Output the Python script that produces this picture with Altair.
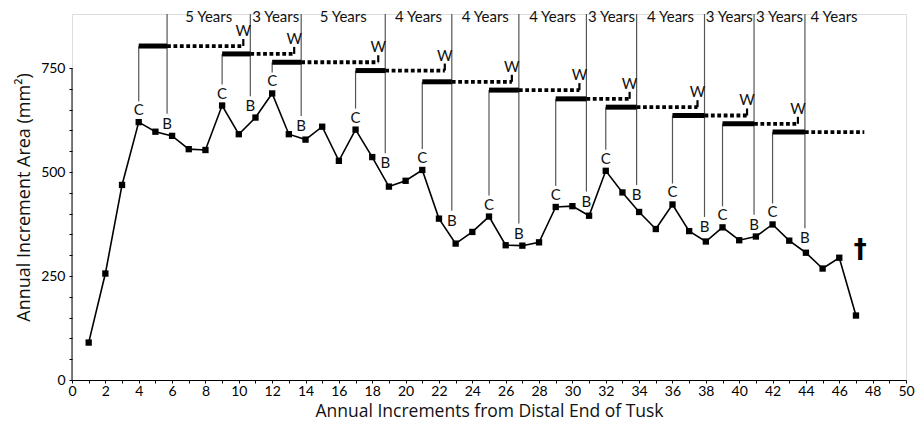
import altair as alt
import pandas as pd

# ---------------- data ----------------
increments = list(range(1, 48))
area = [90, 256, 469, 620, 597, 587, 555, 553, 660, 591, 631, 689, 591, 578, 609,
        527, 602, 536, 465, 479, 505, 388, 328, 356, 393, 324, 323, 331, 416, 418,
        395, 503, 451, 404, 363, 422, 358, 333, 367, 336, 345, 374, 335, 306, 268,
        294, 155]

c_x = [4, 9, 12, 17, 21, 25, 29, 32, 36, 39, 42]                 # "C" peaks
b_x = [5.70, 10.69, 13.74, 18.78, 22.77, 26.79, 30.84, 33.85, 37.92, 40.89, 43.94]  # "B" lines
bar_y = [803, 784, 764, 744, 717, 697, 676, 656, 636, 616, 596]   # bar / dotted level
b_label_y = [616, 658, 611, 521, 383, 352, 429, 445, 368, 373, 341]
years = ["5 Years", "3 Years", "5 Years", "4 Years", "4 Years", "4 Years",
         "3 Years", "4 Years", "3 Years", "3 Years", "4 Years"]
last_dotted_end = 47.5
w_gap = 0.42
dagger_x, dagger_y = 47.25, 313

# ---------------- layout ----------------
Y_MAX = 880
H = 366
W = 834
U = Y_MAX / H  # data units per pixel
FONT = "Lato"
TFONT = "Open Sans"

area_of = dict(zip(increments, area))

pts = pd.DataFrame({"x": increments, "y": area})

c_df = pd.DataFrame({"x": c_x, "y": [area_of[v] for v in c_x], "lab": "C"})
c_df["y0"] = c_df["y"] + 21 * U
c_df["y2"] = bar_y

bar_df = pd.DataFrame({"x": c_x, "x2": b_x, "y": bar_y})

dot_end = [b - w_gap for b in b_x[1:]] + [last_dotted_end]
dot_df = pd.DataFrame({"x": b_x, "x2": dot_end, "y": bar_y})

w_df = pd.DataFrame({"x": dot_end[:-1], "y": bar_y[:-1], "lab": "W"})
w_df["y2"] = w_df["y"] + 7 * U

b_df = pd.DataFrame({"x": b_x, "y": b_label_y, "lab": "B"})
b_df["y0"] = b_df["y"] + 10 * U
b_df["y2"] = Y_MAX

yr_x = [(b_x[i] + b_x[i + 1]) / 2 for i in range(len(b_x) - 1)] + [b_x[-1] + 1.75]
yr_df = pd.DataFrame({"x": yr_x, "y": Y_MAX - 2.5 * U, "lab": years})

ydom_df = pd.DataFrame({"x": [0], "y": [0], "y2": [750]})
dag_df = pd.DataFrame({"x": [dagger_x], "y": [dagger_y], "lab": ["†"]})

XT = "Annual Increments from Distal End of Tusk"
YT = "Annual Increment Area (mm²)"
xs = alt.Scale(domain=[0, 50], nice=False, zero=False)
ys = alt.Scale(domain=[0, Y_MAX], nice=False)

xaxis = alt.Axis(values=list(range(0, 51)),
                 labelExpr="datum.value % 2 === 0 ? datum.label : ''",
                 tickSize=3, labelPadding=1, labelFontSize=14, titleFontSize=17.5,
                 labelFont=FONT, titleFont=TFONT, titleFontWeight="normal",
                 grid=False, domainColor="black", tickColor="black",
                 labelColor="black", titleColor="#111", titlePadding=4,
                 labelFlush=False, labelOverlap=False)
yaxis = alt.Axis(values=list(range(0, 751, 50)),
                 labelExpr="datum.value % 250 === 0 ? datum.label : ''",
                 tickSize=3, labelPadding=4, labelFontSize=14, titleFontSize=18,
                 labelFont=FONT, titleFont=TFONT, titleFontWeight="normal",
                 grid=False, domain=False, tickColor="black",
                 labelColor="black", titleColor="#111", titlePadding=7,
                 labelOverlap=False)


def X(f):
    return alt.X(f, scale=xs, axis=xaxis, title=XT)


def Y(f):
    return alt.Y(f, scale=ys, axis=yaxis, title=YT)


line = alt.Chart(pts).mark_line(color="black", strokeWidth=1.6).encode(x=X("x:Q"), y=Y("y:Q"))
squares = alt.Chart(pts).mark_point(shape="square", filled=True, size=40, color="black",
                                    opacity=1).encode(x=X("x:Q"), y=Y("y:Q"))

c_lines = alt.Chart(c_df).mark_rule(color="#555", strokeWidth=1.2).encode(
    x=X("x:Q"), y=Y("y0:Q"), y2="y2:Q")
c_text = alt.Chart(c_df).mark_text(font=FONT, fontSize=15, color="#111", dy=-12,
                                   baseline="middle").encode(x=X("x:Q"), y=Y("y:Q"), text="lab:N")

bars = alt.Chart(bar_df).mark_rule(color="black", strokeWidth=5, strokeCap="butt").encode(
    x=X("x:Q"), x2="x2:Q", y=Y("y:Q"))
dots = alt.Chart(dot_df).mark_rule(color="black", strokeWidth=3.8, strokeDash=[3.8, 2.6],
                                   strokeCap="butt").encode(x=X("x:Q"), x2="x2:Q", y=Y("y:Q"))

w_ticks = alt.Chart(w_df).mark_rule(color="black", strokeWidth=2.2).encode(
    x=X("x:Q"), y=Y("y:Q"), y2="y2:Q")
w_text = alt.Chart(w_df).mark_text(font=FONT, fontSize=15, color="#111", dy=-15,
                                   baseline="middle").encode(x=X("x:Q"), y=Y("y:Q"), text="lab:N")

b_lines = alt.Chart(b_df).mark_rule(color="#555", strokeWidth=1.2).encode(
    x=X("x:Q"), y=Y("y0:Q"), y2="y2:Q")
b_text = alt.Chart(b_df).mark_text(font=FONT, fontSize=15, color="#111",
                                   baseline="middle").encode(x=X("x:Q"), y=Y("y:Q"), text="lab:N")

yr_text = alt.Chart(yr_df).mark_text(font=FONT, fontSize=15, color="#111",
                                     baseline="middle").encode(x=X("x:Q"), y=Y("y:Q"), text="lab:N")

ydom = alt.Chart(ydom_df).mark_rule(color="black", strokeWidth=1).encode(
    x=X("x:Q"), y=Y("y:Q"), y2="y2:Q")

dagger = alt.Chart(dag_df).mark_text(font="DejaVu Sans", fontSize=26, fontWeight="bold",
                                     color="black", baseline="middle").encode(
    x=X("x:Q"), y=Y("y:Q"), text="lab:N")

chart = alt.layer(ydom, c_lines, b_lines, bars, dots, w_ticks, line, squares,
                  c_text, w_text, b_text, yr_text, dagger).properties(
    width=W, height=H,
    autosize=alt.AutoSizeParams(type="none"),
    padding={"left": 64, "top": 6, "right": 9, "bottom": 40},
).configure_view(stroke=None).configure(background="white")

chart.save("out.html", embed_options={"renderer": "svg", "actions": False})
